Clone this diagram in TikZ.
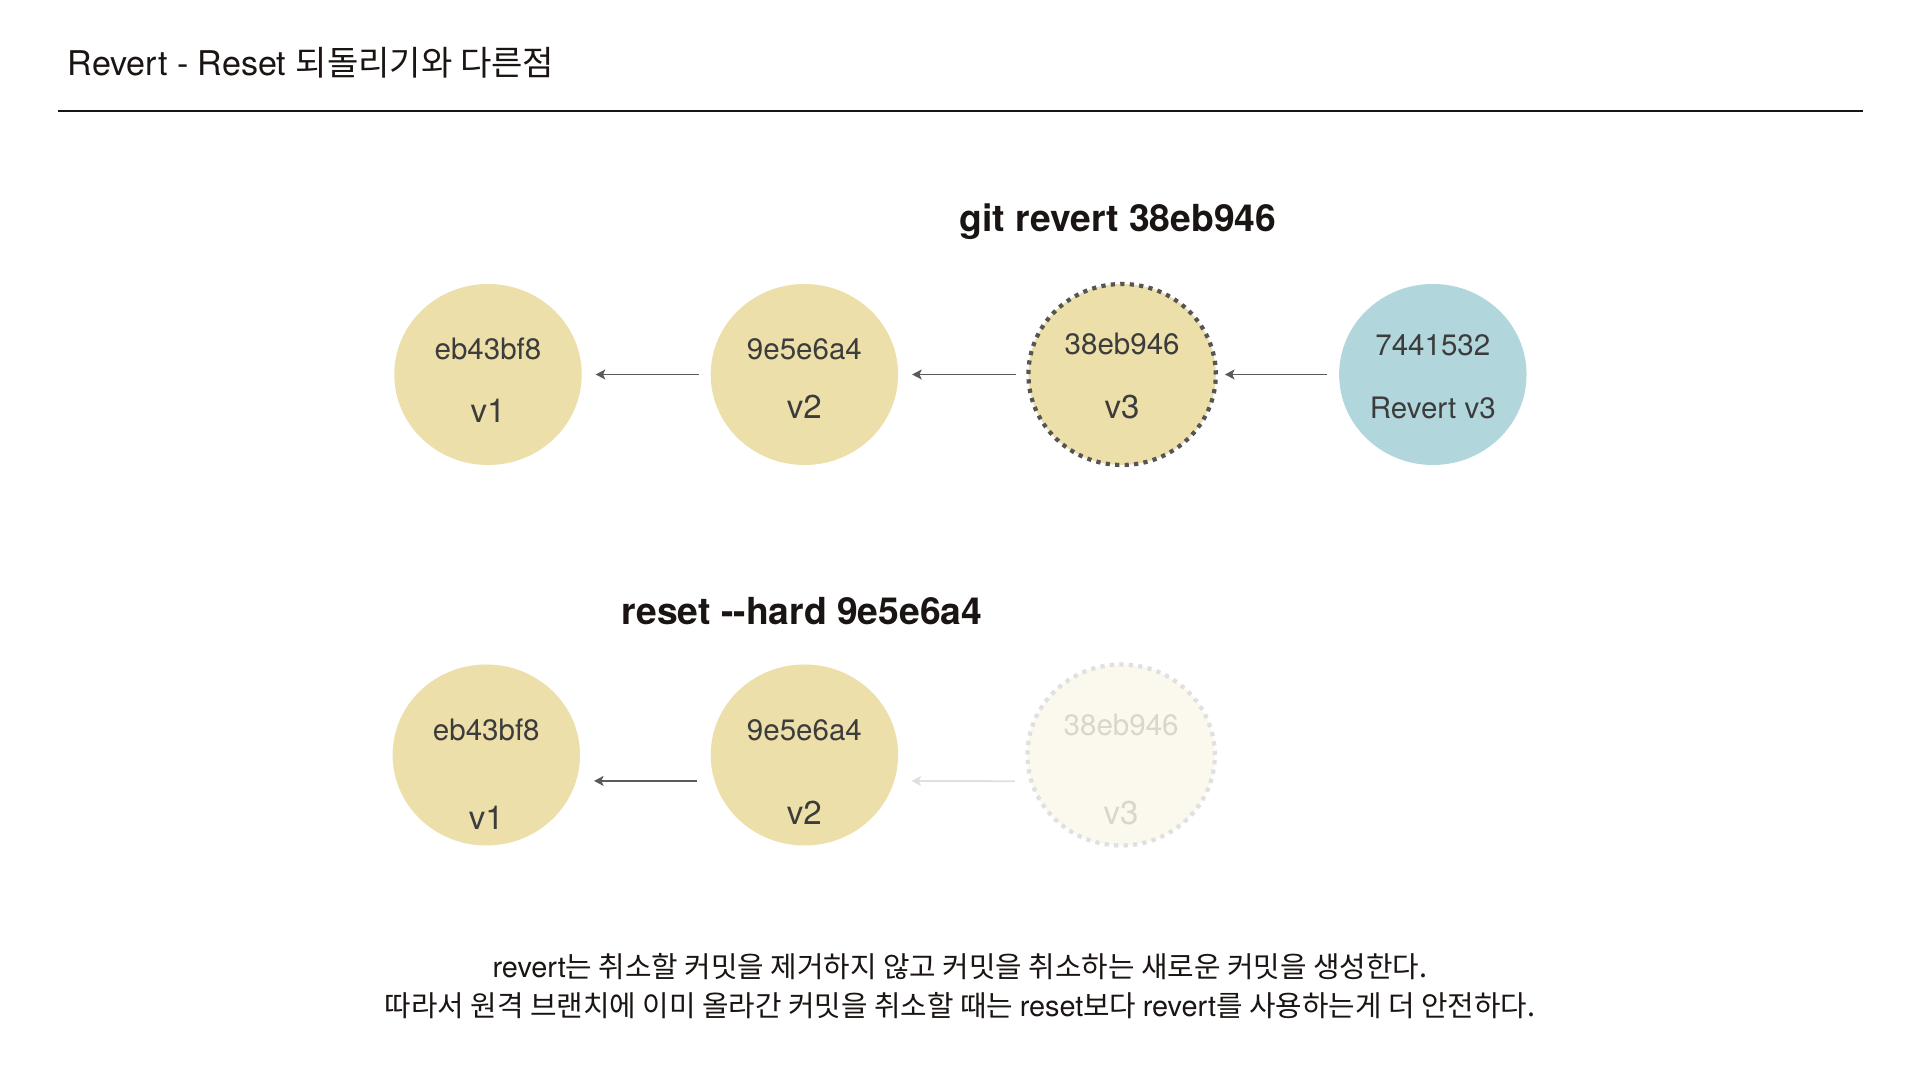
\documentclass[tikz,border=0pt]{standalone}
\usepackage{fontspec}
\setmainfont{TeX Gyre Heros}
\newfontfamily\kr{Noto Sans CJK KR}
\usepackage{xcolor}
\usepackage{tikz}
\usetikzlibrary{shapes.geometric}
\usetikzlibrary{calc,arrows.meta,positioning}
\definecolor{cyellow}{HTML}{EDDFA9}
\definecolor{cblue}{HTML}{B1D7DC}
\definecolor{goneyellow}{HTML}{FBF9EE}
\definecolor{gonegray}{HTML}{E0E0E0}
\definecolor{gonetxt}{HTML}{D9D6CC}
\definecolor{dotgray}{HTML}{555555}
\definecolor{arrgray}{HTML}{5A5A5A}
\definecolor{txtgray}{HTML}{3C3C3C}
\definecolor{inkblack}{HTML}{1A1412}
\tikzset{
  cmt/.style = {ellipse, minimum width=1.874cm, minimum height=1.81cm, inner sep=0pt},
  cmt_y/.style = {cmt, fill=cyellow},
  cmt_b/.style = {cmt, fill=cblue},
  cmt_dot/.style = {cmt, fill=cyellow, draw=dotgray, line width=1.2pt, dash pattern=on 1.2pt off 1.5pt},
  cmt_gone/.style = {cmt, fill=goneyellow, draw=gonegray, line width=1.2pt, dash pattern=on 1.2pt off 1.5pt},
  hashtxt/.style = {anchor=base, inner sep=0pt, text=txtgray, font=\fontsize{8.4}{10}\selectfont},
  vertxt/.style = {anchor=base, inner sep=0pt, text=txtgray, font=\fontsize{9.4}{11}\selectfont},
  cmdtxt/.style = {anchor=base, inner sep=0pt, text=inkblack, font=\bfseries\fontsize{10.6}{12}\selectfont},
  notetxt/.style = {anchor=base, inner sep=0pt, text=inkblack, font=\fontsize{8.2}{11}\selectfont},
  back_arr/.style = {-{Stealth[length=2.7pt,width=2.8pt,inset=0.6pt]}, line width=0.55pt, draw=arrgray}
}
\begin{document}
\begin{tikzpicture}
\path[use as bounding box, fill=white] (0,0) rectangle (19.2,10.8);
% title
\node[anchor=base west, inner sep=0pt, text=inkblack, font=\fontsize{9.7}{11}\selectfont] (title) at (0.67,10.046) {Revert - Reset {\kr 되돌리기와 다른점}};
\draw[line width=0.6pt, inkblack] (0.575,9.69) -- (18.625,9.69);

% git revert
\node[cmdtxt] (cmd1) at (11.18,8.483) {git revert 38eb946};
\node[cmt_y] (t1) at (4.88,7.055) {};
\node[cmt_y, right=1.276cm of t1] (t2) {};
\node[cmt_dot, right=1.275cm of t2] (t3) {};
\node[cmt_b, right=1.205cm of t3] (t4) {};
\node[hashtxt] (t1h) at ([yshift=0.145cm]t1.center) {eb43bf8};
\node[vertxt] (t1v) at ([yshift=-0.48cm]t1.center) {v1};
\node[hashtxt] (t2h) at ([yshift=0.152cm]t2.center) {9e5e6a4};
\node[vertxt] (t2v) at ([yshift=-0.445cm]t2.center) {v2};
\node[hashtxt] (t3h) at ([yshift=0.195cm]t3.center) {38eb946};
\node[vertxt] (t3v) at ([yshift=-0.438cm]t3.center) {v3};
\node[hashtxt] (t4h) at ([yshift=0.185cm]t4.center) {7441532};
\node[hashtxt] (t4v) at ([yshift=-0.438cm]t4.center) {Revert v3};
\draw[back_arr, shorten <=0.113cm, shorten >=0.133cm] (t2) -- (t1);
\draw[back_arr, shorten <=0.10cm, shorten >=0.133cm] (t3) -- (t2);
\draw[back_arr, shorten <=0.113cm, shorten >=0.07cm] (t4) -- (t3);

% reset --hard
\node[cmdtxt] (cmd2) at (8.02,4.55) {reset -{}-hard 9e5e6a4};
\node[cmt_y] (r1) at (4.863,3.25) {};
\node[cmt_y, right=1.293cm of r1] (r2) {};
\node[cmt_gone, right=1.265cm of r2] (r3) {};
\node[hashtxt] (r1h) at ([yshift=0.14cm]r1.center) {eb43bf8};
\node[vertxt] (r1v) at ([yshift=-0.75cm]r1.center) {v1};
\node[hashtxt] (r2h) at ([yshift=0.143cm]r2.center) {9e5e6a4};
\node[vertxt] (r2v) at ([yshift=-0.70cm]r2.center) {v2};
\node[hashtxt, text=gonetxt] (r3h) at ([yshift=0.193cm]r3.center) {38eb946};
\node[vertxt, text=gonetxt] (r3v) at ([yshift=-0.70cm]r3.center) {v3};
\draw[back_arr, shorten <=0.165cm, shorten >=0.172cm] (r2.196) -- (r1.344);
\draw[back_arr, draw=gonegray, shorten <=0.145cm, shorten >=0.165cm] (r3.196) -- (r2.344);

% note
\node[notetxt] (n1) at (9.6,1.02) {revert{\kr 는 취소할 커밋을 제거하지 않고 커밋을 취소하는 새로운 커밋을 생성한다.}};
\node[notetxt] (n2) at (9.6,0.63) {{\kr 따라서 원격 브랜치에 이미 올라간 커밋을 취소할 때는 }reset{\kr 보다 }revert{\kr 를 사용하는게 더 안전하다.}};
\end{tikzpicture}
\end{document}
